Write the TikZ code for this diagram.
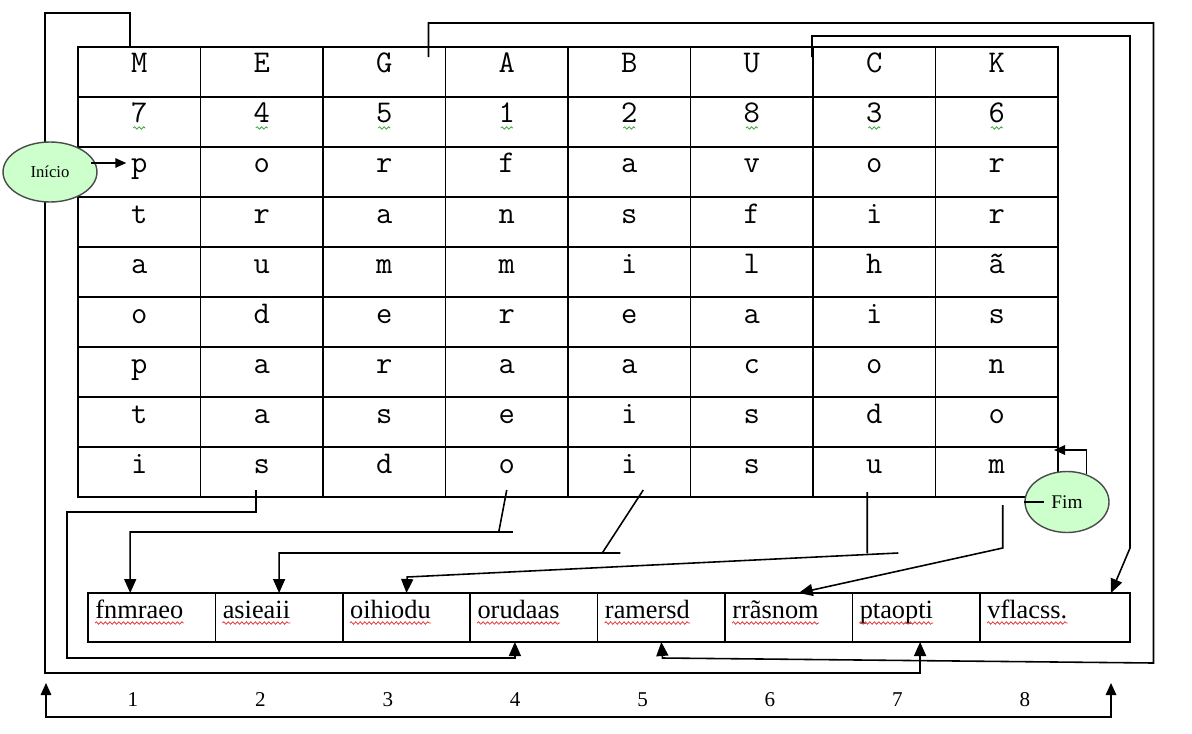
\documentclass[tikz,border=0pt]{standalone}
\usepackage{fontspec}
\setmainfont{Liberation Serif}
\usetikzlibrary{arrows.meta,positioning,calc,shapes.geometric,decorations.pathmorphing}
\definecolor{StartGreen}{HTML}{CCFFCC}
\definecolor{EdgeGray}{HTML}{4A4A4A}
\definecolor{SpellRed}{HTML}{E23A3A}
\definecolor{SpellGreen}{HTML}{3FA63F}

\begin{document}
\begin{tikzpicture}[x=0.02cm,y=-0.02cm,
 cell/.style={draw,line width=0.9pt,outer sep=0pt,inner sep=0pt,minimum width=2.45cm,minimum height=1cm,text height=0.24cm,text depth=0.2cm,font=\ttfamily\fontsize{18}{20}\selectfont},
 slot/.style={draw,line width=0.9pt,outer sep=0pt,inner sep=0pt,minimum width=2.548cm,minimum height=0.98cm},
 word/.style={inner sep=0pt,anchor=base west,font=\fontsize{15}{18}\selectfont},
 index/.style={inner sep=0pt,font=\fontsize{12}{14}\selectfont},
 terminal/.style={ellipse,draw=EdgeGray,line width=0.8pt,fill=StartGreen,inner sep=0pt},
 link/.style={line width=0.9pt},
 arrow/.style={link,-{Triangle[length=2.8mm,width=2.4mm]}},
 smallarrow/.style={link,-{Triangle[length=2.2mm,width=1.9mm]}},
 spell/.style={draw=#1,line width=0.45pt,decorate,decoration={snake,segment length=0.09cm,amplitude=0.025cm}}]
 \useasboundingbox (0,0) rectangle (1192,733);
 % key table
 \foreach \row [count=\r] in {{M,E,G,A,B,U,C,K},{7,4,5,1,2,8,3,6},{p,o,r,f,a,v,o,r},{t,r,a,n,s,f,i,r},{a,u,m,m,i,l,h,ã},{o,d,e,r,e,a,i,s},{p,a,r,a,a,c,o,n},{t,a,s,e,i,s,d,o},{i,s,d,o,i,s,u,m}}
  \foreach \ch [count=\c] in \row
   \node[cell](cell-\r-\c) at ({78+122.5*(\c-0.5)},{47+50*(\r-0.5)}){\ch};
 \foreach \c in {1,...,8}
  \draw[spell=SpellGreen]([shift={(-6,6)}]cell-2-\c.center)--([shift={(6,6)}]cell-2-\c.center);
 % cipher text
 \foreach \k in {1,...,7}
  \node[slot](out\k) at ({88+127.4*(\k-0.5)},617.5){};
 \node[slot,minimum width=3cm](out8) at (1055,617.5){};
 \foreach \txt [count=\k] in {fnmraeo,asieaii,oihiodu,orudaas,ramersd,rrãsnom,ptaopti,vflacss.}{
  \node[word](w\k) at ([shift={(7,25)}]out\k.north west){\txt};
  \draw[spell=SpellRed]([yshift=-0.1cm]w\k.base west)--([yshift=-0.1cm]w\k.base east);
 }
 \foreach \k in {1,...,8}
  \node[index](num\k) at ({133+127.4*(\k-1)},700){\k};
 % columns to text
 \draw[arrow]([xshift=-0.18cm]cell-1-1.north)--++(0,-34)--++(-85,0)--++(0,660)-|([xshift=0.08cm]out7.south);
 \draw[arrow]([shift={(-17,10)}]cell-1-3.north east)--++(0,-34)--++(725,0)--++(0,640)--++(-491,-5)--(out5.south);
 \draw[arrow]([shift={(-1,10)}]cell-1-7.north west)--++(0,-21)--++(318,0)--++(0,512)--([xshift=1.12cm]out8.north);
 \draw[arrow]([shift={(-6,-7)}]cell-9-2.south)--++(0,22)--++(-189,0)--++(0,146)-|([xshift=-0.38cm]out4.south);
 \draw[arrow]([yshift=0.14cm]cell-9-4.south)--++(-8,42)++(14,0)-|([xshift=-0.43cm]out1.north);
 \draw[arrow]([shift={(14,-7)}]cell-9-5.south)--++(-41,63)++(18,0)-|(out2.north);
 \draw[arrow]([shift={(-7,-5)}]cell-9-7.south)--++(0,61)++(31,0)--++(-491,24)--(out3.north);
 \draw[arrow]([shift={(6,8)}]cell-9-8.south)--++(0,43)--([xshift=0.2cm]out6.north);
 % span under the positions
 \coordinate(spanL) at (46,683);
 \coordinate(spanR) at (1111,683);
 \draw[link,{Triangle[length=2.4mm,width=2.1mm]}-{Triangle[length=2.4mm,width=2.1mm]}](spanL)--++(0,34)-|(spanR);
 % start and end
 \node[terminal,minimum width=1.88cm,minimum height=1.2cm,font=\fontsize{9.5}{11}\selectfont](inicio) at (50,172){Início};
 \node[terminal,minimum width=1.68cm,minimum height=1.22cm,font=\fontsize{11}{13}\selectfont](fim) at (1067,502){Fim};
 \draw[smallarrow]([shift={(-7,-9)}]inicio.east)--([shift={(-13,-9)}]cell-3-1.center);
 \draw[link](fim.west)--++(20,0);
 \draw[smallarrow](fim.55)|-([shift={(-4,3)}]cell-9-8.north east);
\end{tikzpicture}
\end{document}
